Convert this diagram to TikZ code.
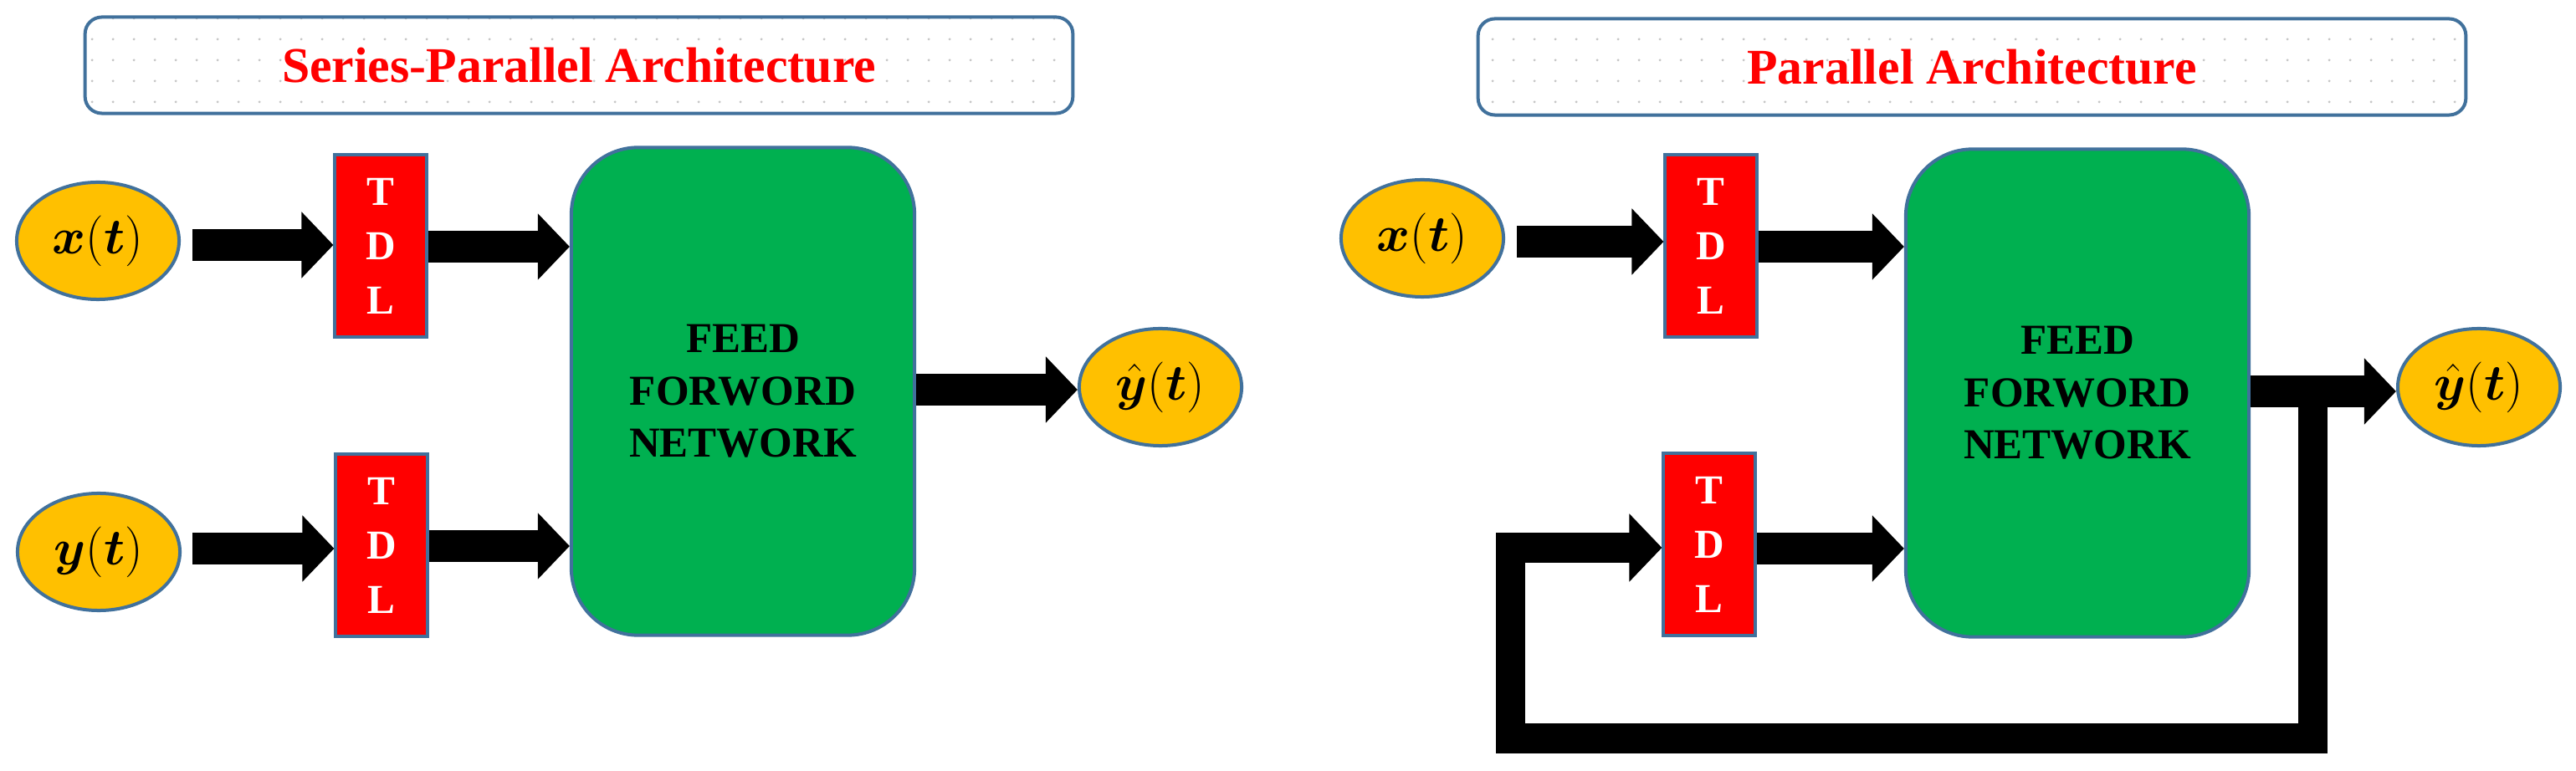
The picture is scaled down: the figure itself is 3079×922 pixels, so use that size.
\documentclass[tikz,border=0pt]{standalone}
\usepackage{fontspec}
\usepackage{amsmath,bm}
\setmainfont{Liberation Serif}
\usetikzlibrary{arrows.meta,patterns.meta,shapes.geometric}
\definecolor{bord}{HTML}{41719C}
\definecolor{yel}{HTML}{FFC000}
\definecolor{grn}{HTML}{00B050}
\tikzdeclarepattern{name=mydots,type=uncolored,bounding box={(0,0) and (7pt,7pt)},tile size={(7pt,7pt)},code={\fill (3.5pt,3.5pt) circle (0.45pt);}}
\tikzset{
 x=0.01cm,y=-0.01cm,
 titlebox/.style={draw=bord,line width=0.04cm,rounded corners=0.2cm,minimum width=11.8cm,minimum height=1.15cm,
   pattern={mydots},pattern color=gray!45,text=red,font=\bfseries\fontsize{17}{20}\selectfont},
 sig/.style={ellipse,draw=bord,fill=yel,line width=0.04cm,minimum width=1.94cm,minimum height=1.4cm,inner sep=0pt,font=\fontsize{16}{18}\selectfont},
 tdl/.style={draw=bord,fill=red,line width=0.04cm,minimum width=1.09cm,minimum height=2.17cm,inner sep=0pt,text=white,
   font=\bfseries\fontsize{14}{18.5}\selectfont,align=center},
 ffn/.style={draw=bord,fill=grn,line width=0.04cm,rounded corners=0.8cm,minimum width=4.1cm,minimum height=5.83cm,inner sep=0pt,
   font=\bfseries\fontsize{14.5}{17.8}\selectfont,align=center},
 barrow/.style={line width=0.38cm,-{Triangle[length=0.38cm,width=0.77cm]}},
 fbarrow/.style={line width=0.35cm,line join=miter,-{Triangle[length=0.39cm,width=0.79cm]}},
}
\begin{document}
\begin{tikzpicture}
\useasboundingbox (0,0) rectangle (3079,922);
% left
\node[titlebox] (t1) at (692,78) {Series-Parallel Architecture};
\node[sig] (x1) at (117,288) {$\bm{x}(\bm{t})$};
\node[sig] (y1) at (118,660) {$\bm{y}(\bm{t})$};
\node[sig] (h1) at (1387,463) {$\hat{\bm{y}}(\bm{t})$};
\node[tdl] (d1) at (455,294) {T\\D\\L};
\node[tdl] (d2) at (456,652) {T\\D\\L};
\node[ffn] (f1) at (888,468) {FEED\\FORWORD\\NETWORK};
\draw[barrow] (230,293) -- (d1.west |- 0,293);
\draw[barrow] (d1.east |- 0,295) -- (f1.west |- 0,295);
\draw[barrow] (230,656) -- (d2.west |- 0,656);
\draw[barrow] (d2.east |- 0,653) -- (f1.west |- 0,653);
\draw[barrow] (f1.east |- 0,466) -- (h1.west |- 0,466);
% right
\node[titlebox] (t2) at (2357,80) {Parallel Architecture};
\node[sig] (x2) at (1700,285) {$\bm{x}(\bm{t})$};
\node[sig] (h2) at (2963,463) {$\hat{\bm{y}}(\bm{t})$};
\node[tdl] (d3) at (2045,294) {T\\D\\L};
\node[tdl] (d4) at (2043,651) {T\\D\\L};
\node[ffn] (f2) at (2483,470) {FEED\\FORWORD\\NETWORK};
\draw[barrow] (1813,289) -- (d3.west |- 0,289);
\draw[barrow] (d3.east |- 0,295) -- (f2.west |- 0,295);
\draw[barrow] (d4.east |- 0,656) -- (f2.west |- 0,656);
\draw[barrow] (f2.east |- 0,468) -- (h2.west |- 0,468);
\coordinate (fb) at (2764,470);
\draw[fbarrow] (fb) -- (2764,883) -- (1805,883) -- (1805,655) -- (d4.west |- 0,655);
\end{tikzpicture}
\end{document}
